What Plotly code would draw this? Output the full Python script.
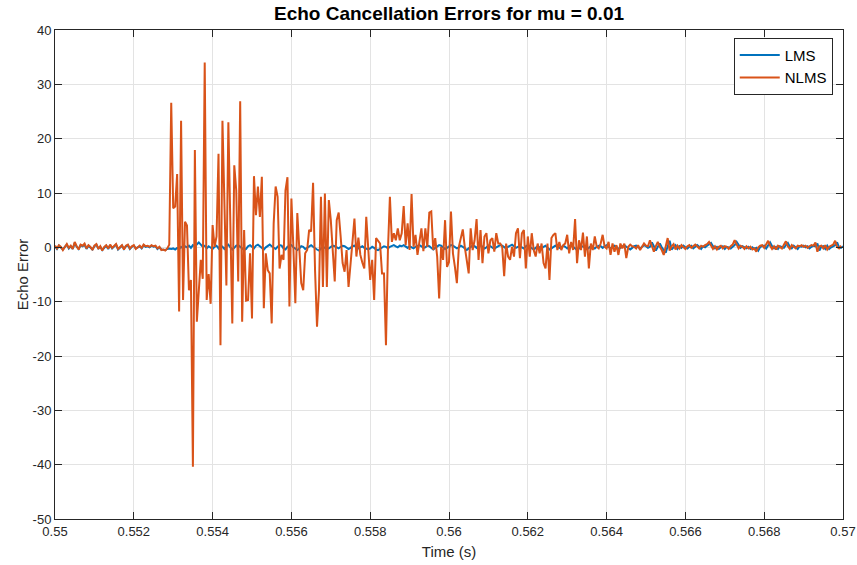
import numpy as np
import plotly.graph_objects as go

fs = 20000
t0 = 0.55

nlms = [
    0.3,-0.2,0.4,0.1,-0.5,0.2,0.6,-0.1,0.3,-0.3,
    1.0,0.2,-0.4,0.5,0.3,0.7,-0.2,0.4,0.1,-0.5,
    0.3,0.6,-0.3,0.2,-0.6,0.1,0.4,-0.2,0.5,-0.1,
    0.2,0.6,-0.3,0.1,0.4,-0.4,0.3,0.5,-0.2,0.2,
    0.4,-0.3,0.1,0.3,-0.1,0.5,0.2,0.3,0.1,0.4,
    0.2,0.3,-0.2,0.1,-0.5,-0.4,-0.6,-0.2,0.5,
    26.6,7.2,7.5,13.5,-11.8,23.3,-9.7,4.7,4.0,-7.9,
    -6.0,-40.4,17.9,-13.7,-8.0,-2.3,-5.8,34.0,-9.7,-4.9,
    -10.4,4.1,0.1,2.0,17.2,-18.0,23.3,8.2,-7.0,23.0,
    4.0,-14.0,15.1,10.5,-6.3,26.9,-13.7,3.2,-9.8,-9.7,
    -1.1,-13.1,13.1,5.9,11.2,5.6,13.0,-11.2,-1.1,-4.2,
    -4.8,-14.0,4.4,11.2,9.3,-3.9,-1.4,-2.3,10.5,12.9,
    -10.9,9.0,0.0,-10.3,6.3,-0.2,-6.6,-7.9,-1.1,-0.5,
    3.2,2.9,11.9,-4.2,-14.6,-7.9,9.3,-7.3,9.9,-7.3,
    8.7,5.0,-1.1,-6.3,5.0,6.4,2.0,-2.9,-4.5,-0.5,
    -7.3,-2.3,1.0,5.3,-1.7,1.8,-1.4,-2.8,-3.9,5.6,
    -0.5,-6.0,-2.3,-9.7,1.7,1.3,0.7,-4.8,-4.8,-18.0,
    -0.5,9.3,1.0,2.6,1.3,3.5,1.3,2.6,7.6,0.4,
    4.4,-0.5,9.8,0.1,2.3,-1.4,1.3,3.5,-0.7,3.5,
    0.1,6.4,6.6,-0.5,1.7,-1.7,-9.4,0.1,-2.3,5.0,
    -3.6,-2.7,6.6,-1.1,-3.6,-6.6,0.1,2.0,3.3,0.1,
    -2.3,-4.8,3.5,-0.5,1.3,5.2,-2.3,3.2,-2.9,2.0,
    2.6,-1.1,1.3,1.7,-0.8,2.6,0.7,0.7,0.1,-5.3,
    0.7,-1.7,-2.3,0.1,-1.7,2.6,3.5,-2.0,2.6,3.2,
    -3.9,2.0,-1.7,2.6,-0.5,-1.7,0.7,-1.1,0.7,-2.9,
    -3.9,0.7,-6.0,1.7,2.3,2.6,-0.5,1.0,-0.5,0.4,
    0.7,2.3,-1.1,1.0,-0.5,5.2,-2.9,1.3,-0.5,2.7,
    -1.7,2.0,-3.9,0.7,-0.5,2.0,0.1,-0.2,0.7,2.3,
    0.1,-0.2,1.0,-1.4,0.7,-0.8,0.4,-1.4,0.7,-0.2,
    0.7,-2.0,0.1,0.5,0.2,0.1,-0.2,0.4,-0.5,0.1,
    0.7,0.3,
    0.2,1.3,0.3,-0.8,0.2,1.0,0.1,-0.5,-1.4,0.3,
    1.7,-0.6,0.2,0.6,-0.4,0.3,-0.2,0.4,0.1,-0.3,
    0.2,0.4,-0.1,0.3,0.5,0.2,-0.2,0.3,0.1,0.4,
    0.6,1.0,0.3,-0.3,0.2,-0.4,0.1,0.3,-0.2,0.2,
    0.1,-0.3,0.2,0.5,1.3,0.4,-0.2,0.3,0.1,-0.3,
    0.2,-0.2,0.1,-0.4,-0.2,-0.8,0.0,0.3,0.4,-0.1,
    0.6,1.2,0.3,-0.3,0.2,-0.4,0.3,0.1,-0.2,0.5,
    1.1,0.2,-0.3,0.4,0.1,-0.2,0.3,0.2,0.4,0.1,
    0.3,-0.1,0.2,0.4,0.3,0.9,-0.8,0.2,0.3,-0.2,
    0.4,-0.4,0.1,0.3,0.5,1.2,0.1,-0.2,0.3,
]

lms = [
    0.2,-0.3,0.3,0.0,-0.4,0.1,0.5,-0.2,0.2,-0.3,
    0.8,0.1,-0.3,0.4,0.2,0.5,-0.3,0.3,0.0,-0.4,
    0.2,0.5,-0.2,0.1,-0.5,0.0,0.3,-0.3,0.4,-0.2,
    0.1,0.5,-0.4,0.0,0.3,-0.3,0.2,0.4,-0.3,0.1,
    0.3,-0.2,0.0,0.2,-0.2,0.4,0.1,0.2,0.0,0.3,
    0.1,0.2,-0.3,0.0,-0.4,-0.5,-0.5,-0.3,-0.2,
    -0.3,-0.2,-0.4,-0.1,-0.3,0.1,-0.2,0.2,0.0,0.3,-0.1,0.4,0.2,0.6,0.9,0.5,0.1,0.3,-0.2,0.2,
    0.0,-0.3,0.1,0.3,-0.2,0.4,0.1,-0.3,0.2,0.5,0.0,-0.4,-0.1,0.3,0.4,0.1,-0.2,-0.5,-0.3,0.2,
    0.4,0.1,-0.2,0.3,0.5,0.2,-0.1,-0.4,0.0,0.3,0.5,0.2,0.0,-0.3,0.1,0.4,0.3,-0.2,-0.4,0.1,
    0.3,0.4,0.0,-0.3,-0.5,-0.2,0.2,0.1,-0.3,-0.1,0.2,0.4,0.1,-0.2,-0.4,-0.6,-0.3,0.1,-0.1,-0.3,
    -0.2,0.1,0.3,0.2,0.0,-0.2,0.1,0.3,0.2,-0.1,-0.3,-0.1,0.2,0.3,0.1,-0.2,0.0,0.2,-0.1,-0.3,
    -0.4,-0.2,0.1,-0.1,-0.4,-0.5,-0.3,0.0,0.2,0.1,-0.2,0.1,0.3,0.4,0.2,0.0,0.3,0.2,0.4,0.1,
    -0.1,0.2,0.0,-0.2,0.1,0.3,0.4,0.2,-0.1,0.0,0.3,0.2,-0.2,-0.4,-0.1,0.2,0.4,0.3,0.0,-0.3,
    -0.1,0.2,0.4,0.3,0.1,-0.2,0.0,0.3,0.1,-0.3,-0.5,-0.2,0.1,0.3,0.2,-0.1,0.2,0.4,0.1,-0.2,
    0.0,0.3,0.2,-0.1,-0.3,0.0,0.2,0.4,0.3,0.0,-0.2,0.1,0.3,0.5,0.2,-0.1,0.1,0.3,0.0,-0.2,
    0.2,0.4,0.1,-0.2,-0.4,-0.1,0.2,0.0,-0.2,0.1,0.3,-0.1,-0.4,-0.2,0.1,0.3,0.2,-0.1,0.0,0.3,
    0.1,-0.2,0.2,0.4,0.1,-0.3,-0.5,-0.2,0.1,0.2,0.0,-0.3,-0.1,0.2,0.0,-0.2,0.1,0.3,0.2,-0.1,
    0.2,0.4,0.1,-0.2,0.0,0.3,0.1,-0.3,-0.1,0.2,0.4,0.1,-0.2,-0.4,-0.1,0.2,0.3,0.0,-0.2,0.1,0.4,0.2,-0.1,
    0.1,0.9,0.2,-0.6,0.1,0.7,0.0,-0.4,-1.0,0.2,
    1.2,-0.4,0.1,0.4,-0.3,0.2,-0.1,0.3,0.0,-0.2,
    0.1,0.3,-0.2,0.2,0.4,0.1,-0.3,0.2,0.0,0.3,
    0.5,0.8,0.2,-0.2,0.1,-0.3,0.0,0.2,-0.3,0.1,
    0.0,-0.2,0.1,0.4,1.0,0.3,-0.1,0.2,0.0,-0.2,
    0.1,-0.3,0.0,-0.3,-0.1,-0.6,0.1,0.2,0.3,-0.2,
    0.5,0.9,0.2,-0.2,0.1,-0.3,0.2,0.0,-0.1,0.4,
    0.8,0.1,-0.2,0.3,0.0,-0.3,0.2,0.1,0.3,0.0,
    0.2,-0.2,0.1,0.3,0.2,0.7,-0.6,0.1,0.2,-0.3,
    0.3,-0.3,0.0,0.2,0.4,0.9,0.0,-0.1,0.2,
]

x_ticks = [0.55, 0.552, 0.554, 0.556, 0.558, 0.56, 0.562, 0.564, 0.566, 0.568, 0.57]
x_tick_labels = ["0.55", "0.552", "0.554", "0.556", "0.558", "0.56", "0.562", "0.564", "0.566", "0.568", "0.57"]
y_ticks = [-50, -40, -30, -20, -10, 0, 10, 20, 30, 40]
y_tick_labels = ["-50", "-40", "-30", "-20", "-10", "0", "10", "20", "30", "40"]

t_lms = t0 + np.arange(len(lms)) / fs
t_nlms = t0 + np.arange(len(nlms)) / fs

FONT = "Liberation Sans, Arial, sans-serif"
AX = "#262626"

fig = go.Figure()
fig.add_trace(go.Scatter(x=t_lms, y=lms, mode="lines", name="LMS",
                         line=dict(color="#0072BD", width=2)))
fig.add_trace(go.Scatter(x=t_nlms, y=nlms, mode="lines", name="NLMS",
                         line=dict(color="#D95319", width=2)))

axis_common = dict(showline=True, mirror="ticks", linecolor=AX, linewidth=1,
                   ticks="inside", ticklen=7, tickcolor=AX,
                   showgrid=True, gridcolor="#e3e3e3", gridwidth=1,
                   zeroline=False,
                   tickfont=dict(family=FONT, size=13, color=AX))

fig.update_xaxes(range=[0.55, 0.57], tickvals=x_ticks, ticktext=x_tick_labels,
                 title=dict(text="Time (s)", font=dict(family=FONT, size=15, color=AX), standoff=8),
                 **axis_common)
fig.update_yaxes(range=[-50, 40], tickvals=y_ticks, ticktext=y_tick_labels,
                 title=dict(text="Echo Error", font=dict(family=FONT, size=15, color=AX), standoff=0),
                 **axis_common)
fig.update_xaxes(automargin=False)
fig.update_yaxes(automargin=False)

fig.update_layout(
    width=857, height=565,
    margin=dict(l=55, r=14, t=30, b=46),
    paper_bgcolor="white", plot_bgcolor="white",
    title=dict(text="<b>Echo Cancellation Errors for mu = 0.01</b>",
               font=dict(family=FONT, size=19, color="black"),
               x=0.5, xref="paper", xanchor="center",
               y=1 - 13 / 565, yref="container", yanchor="middle"),
    legend=dict(x=0.987, y=0.984, xanchor="right", yanchor="top",
                bgcolor="white", bordercolor=AX, borderwidth=1,
                font=dict(family=FONT, size=15, color="black"),
                itemwidth=40, tracegroupgap=0),
    showlegend=True,
)

fig.write_html("out.html",
               config={"displayModeBar": False},
               post_script="document.body.style.margin='0';document.body.style.overflow='hidden';")
